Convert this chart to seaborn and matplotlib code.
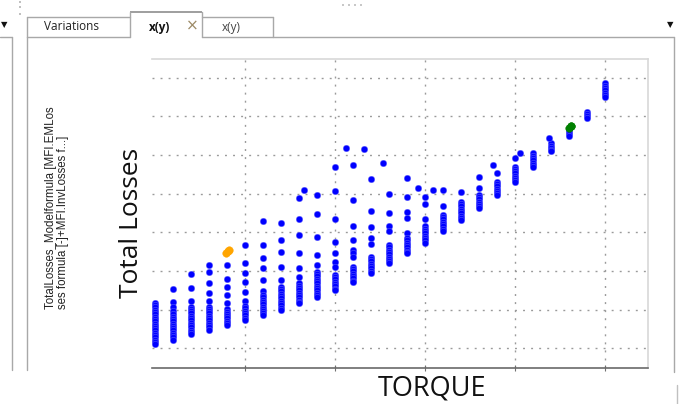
import matplotlib
matplotlib.use("Agg")
import matplotlib.pyplot as plt
import seaborn as sns
import pandas as pd
from matplotlib.lines import Line2D
from matplotlib.patches import Rectangle

# ---------------- data ----------------
torque_levels = [0.0, 0.2, 0.4, 0.6, 0.8, 1.0, 1.2, 1.4, 1.6, 1.8, 2.0, 2.2, 2.4,
                 2.6, 2.8, 3.0, 3.2, 3.4, 3.6, 3.8, 4.0, 4.2, 4.4, 4.6, 4.8, 5.0]
losses_per_level = [
    [2.18, 2.12, 2.06, 2.0, 1.94, 1.88, 1.82, 1.76, 1.70, 1.64, 1.58, 1.52, 1.46, 1.40, 1.34, 1.28, 1.22, 1.16, 1.11],
    [2.53, 2.20, 2.08, 1.96, 1.88, 1.82, 1.76, 1.70, 1.64, 1.58, 1.52, 1.46, 1.40, 1.34, 1.28, 1.22],
    [2.91, 2.57, 2.22, 2.08, 2.02, 1.96, 1.90, 1.84, 1.78, 1.72, 1.66, 1.60, 1.54, 1.48, 1.42, 1.36],
    [3.16, 2.97, 2.70, 2.42, 2.22, 2.08, 2.02, 1.96, 1.90, 1.84, 1.78, 1.72, 1.66, 1.60, 1.54, 1.48],
    [3.15, 2.80, 2.58, 2.38, 2.18, 2.01, 1.95, 1.89, 1.83, 1.77, 1.71, 1.65, 1.60],
    [3.68, 3.21, 2.94, 2.72, 2.46, 2.21, 2.09, 2.03, 1.97, 1.91, 1.85, 1.79, 1.73],
    [4.30, 3.68, 3.34, 3.07, 2.77, 2.49, 2.38, 2.32, 2.26, 2.20, 2.14, 2.08, 2.02, 1.96, 1.90, 1.86],
    [4.25, 3.79, 3.48, 3.10, 2.77, 2.59, 2.53, 2.47, 2.41, 2.35, 2.29, 2.23, 2.17, 2.11, 2.05, 1.99],
    [4.88, 4.33, 3.93, 3.47, 3.07, 2.85, 2.68, 2.62, 2.56, 2.50, 2.44, 2.38, 2.32, 2.26, 2.20, 2.16],
    [4.96, 4.47, 3.89, 3.41, 3.15, 2.98, 2.92, 2.86, 2.80, 2.74, 2.68, 2.62, 2.56, 2.50, 2.44, 2.38, 2.33],
    [5.70, 5.07, 4.34, 3.76, 3.46, 3.24, 3.11, 2.90, 2.84, 2.78, 2.72, 2.66, 2.60, 2.54, 2.51],
    [5.74, 4.84, 4.15, 3.80, 3.54, 3.46, 3.37, 3.11, 3.05, 2.99, 2.93, 2.87, 2.81, 2.75, 2.72],
    [5.38, 4.55, 4.13, 3.85, 3.69, 3.37, 3.31, 3.25, 3.19, 3.13, 3.07, 3.01, 2.95],
    [4.98, 4.51, 4.17, 4.02, 3.67, 3.61, 3.55, 3.49, 3.43, 3.37, 3.31, 3.25, 3.20],
    [5.40, 4.90, 4.53, 4.36, 3.99, 3.85, 3.79, 3.73, 3.67, 3.61, 3.55, 3.49, 3.46],
    [4.92, 4.73, 4.34, 4.15, 4.09, 4.03, 3.97, 3.91, 3.85, 3.79, 3.72],
    [5.08, 4.68, 4.45, 4.39, 4.33, 4.27, 4.21, 4.15, 4.09, 4.02],
    [5.05, 4.79, 4.73, 4.67, 4.61, 4.55, 4.49, 4.43, 4.37, 4.32],
    [5.44, 5.14, 4.97, 4.91, 4.85, 4.79, 4.73, 4.67, 4.62],
    [5.53, 5.31, 5.25, 5.19, 5.13, 5.07, 5.01, 4.97],
    [5.91, 5.70, 5.64, 5.58, 5.52, 5.46, 5.40, 5.34, 5.31],
    [6.04, 5.98, 5.92, 5.86, 5.80, 5.74, 5.68],
    [6.30, 6.24, 6.18, 6.12, 6.09],
    [6.65, 6.59, 6.53, 6.49],
    [7.12, 7.06, 7.00, 6.95],
    [7.85, 7.79, 7.73, 7.67, 7.61, 7.55, 7.51],
]
extra_torque = [1.66, 2.12, 2.32, 2.54, 2.92, 3.09, 3.76, 4.06, 4.38]
extra_losses = [5.09, 6.18, 6.16, 5.79, 5.14, 5.09, 5.74, 6.04, 6.43]

orange_torque = [0.79, 0.81, 0.83]
orange_losses = [3.47, 3.51, 3.55]
green_torque = [4.60, 4.62, 4.63]
green_losses = [6.70, 6.74, 6.76]

grid_x = [1, 2, 3, 4, 5]
grid_y = [1, 2, 3, 4, 5, 6, 7, 8]

# ---------------- build frame ----------------
bx, by = [], []
for t, vals in zip(torque_levels, losses_per_level):
    bx += [t] * len(vals)
    by += vals
bx += extra_torque
by += extra_losses
df_blue = pd.DataFrame({"TORQUE": bx, "Total Losses": by})
df_orange = pd.DataFrame({"TORQUE": orange_torque, "Total Losses": orange_losses})
df_green = pd.DataFrame({"TORQUE": green_torque, "Total Losses": green_losses})

sns.set_style("white")
plt.rcParams["font.family"] = ["Open Sans", "DejaVu Sans"]

W, H = 680, 404
fig = plt.figure(figsize=(W / 100, H / 100), dpi=100)
fig.patch.set_facecolor("white")

L, R, T, B = 152, 648, 59, 368
ax = fig.add_axes([L / W, 1 - B / H, (R - L) / W, (B - T) / H])

sns.scatterplot(data=df_blue, x="TORQUE", y="Total Losses", ax=ax, color="#0000ff",
                s=22, edgecolor="#6f6fff", linewidth=0.3, zorder=3, legend=False)
sns.scatterplot(data=df_orange, x="TORQUE", y="Total Losses", ax=ax, color="#ffa500",
                s=30, edgecolor="#ffa500", linewidth=0.3, zorder=4, legend=False)
sns.scatterplot(data=df_green, x="TORQUE", y="Total Losses", ax=ax, color="#008000",
                s=30, edgecolor="#008000", linewidth=0.3, zorder=4, legend=False)

ax.set_xlim(-0.03, 5.48)
ax.set_ylim(0.49, 8.48)
ax.set_xticks(grid_x)
ax.set_yticks(grid_y)
ax.set_xticklabels([])
ax.set_yticklabels([])
ax.grid(True, color="#9a9a9a", linestyle=(0, (1.4, 4.4)), linewidth=1.0)
ax.tick_params(axis="x", direction="inout", length=5, width=0.8, color="#707070", bottom=True)
ax.tick_params(axis="y", length=0)
ax.set_axisbelow(True)

for side in ["top", "right"]:
    ax.spines[side].set_color("#d8d8d8")
    ax.spines[side].set_linewidth(1.2)
ax.spines["left"].set_visible(False)
ax.spines["bottom"].set_color("#6a6a6a")
ax.spines["bottom"].set_linewidth(1.2)

ax.set_xlabel("TORQUE", fontsize=19.5, color="#111111")
ax.set_ylabel("Total Losses", fontsize=19, color="#111111")
ax.xaxis.set_label_coords((432 - L) / (R - L), -(389 - B) / (B - T))
ax.xaxis.label.set_va("center")
ax.yaxis.set_label_coords((132 - L) / (R - L), (B - 223) / (B - T))
ax.yaxis.label.set_va("center")

# small rotated descriptor text (two lines, one text object)
fig.text(57 / W, 1 - 309 / H,
         "TotalLosses_Modelformula [MFI.EMLos\nses formula [-]+MFI.InvLosses f...]",
         rotation=90, ha="center", va="bottom", fontsize=8.3, linespacing=0.95,
         multialignment="left", family=["Liberation Sans", "DejaVu Sans"],
         color="#222222")

# ---------------- GUI chrome ----------------
def fx(px):
    return px / W

def fy(py):
    return 1 - py / H

def hline(x0, x1, y, color="#a8a8a8", lw=1.0):
    fig.add_artist(Line2D([fx(x0), fx(x1)], [fy(y), fy(y)], color=color, lw=lw))

def vline(x, y0, y1, color="#a8a8a8", lw=1.0):
    fig.add_artist(Line2D([fx(x), fx(x)], [fy(y0), fy(y1)], color=color, lw=lw))

# left panel edge
hline(0, 12, 37)
vline(12, 37, 370)
# tab strip
vline(27, 37, 370)
vline(674, 37, 372)
vline(677, 385, 404, color="#c0c0c0")
hline(27, 130, 37)
hline(202, 674, 37)
# Variations tab
vline(27, 17, 37)
hline(27, 130, 17)
# active tab
vline(130, 12, 37)
vline(202, 12, 37)
fig.add_artist(Rectangle((fx(130), fy(13)), fx(202) - fx(130), fy(11) - fy(13),
                         color="#a0a0a0", lw=0))
# third tab
hline(202, 273, 17)
vline(273, 17, 37)

fig.text(fx(72), fy(27), "Variations", ha="center", va="center", fontsize=8.5,
         color="#222222", family=["Open Sans", "DejaVu Sans"])
fig.text(fx(160), fy(27), "x(y)", ha="center", va="center", fontsize=8.5, weight="bold",
         color="#111111", family=["Open Sans", "DejaVu Sans"])
fig.text(fx(192), fy(26), "\u00d7", ha="center", va="center", fontsize=11,
         color="#9c8a66", family=["DejaVu Sans"])
fig.text(fx(231), fy(27), "x(y)", ha="center", va="center", fontsize=8.5,
         color="#444444", family=["Open Sans", "DejaVu Sans"])
fig.text(fx(4), fy(25), "\u25bc", ha="center", va="center", fontsize=6, color="#111111",
         family=["DejaVu Sans"])
fig.text(fx(670), fy(25), "\u25bc", ha="center", va="center", fontsize=6, color="#111111",
         family=["DejaVu Sans"])
# grip dots
for yy in [1, 6, 13]:
    fig.add_artist(Rectangle((fx(19), fy(yy + 1.5)), fx(2) - fx(0), fy(0) - fy(1.5),
                             color="#c0c0c0", lw=0))
for xx in [342, 348, 354, 360]:
    fig.add_artist(Rectangle((fx(xx), fy(5.5)), fx(2) - fx(0), fy(0) - fy(1.5),
                             color="#c8c8c8", lw=0))

fig.savefig("out.png", dpi=100, facecolor="white")
